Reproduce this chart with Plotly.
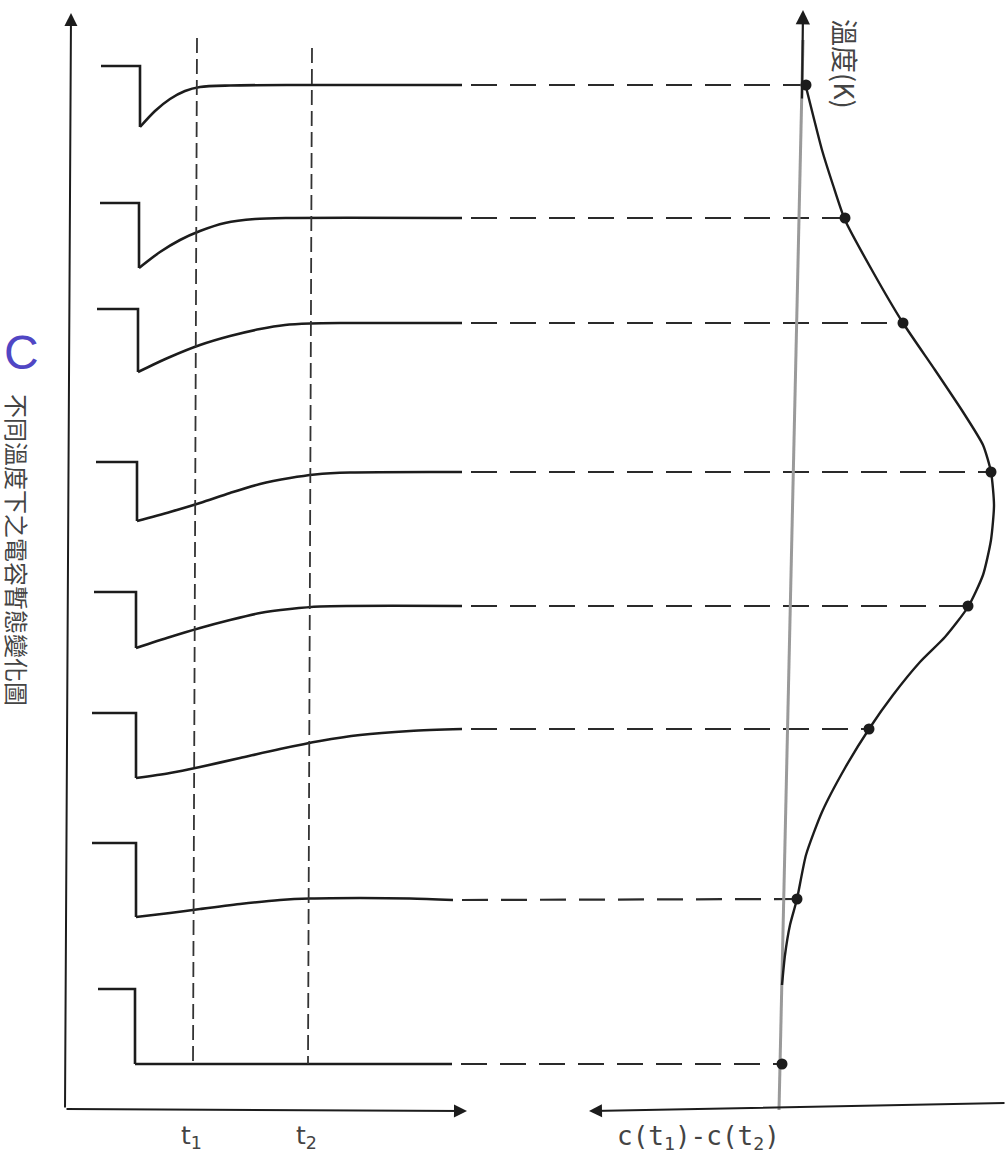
import plotly.graph_objects as go

# ---------------------------------------------------------------
# Capacitance transients at eight temperatures (left panel) and the
# resulting rate-window signal C(t1)-C(t2) versus temperature (right).
# All values are in the drawing frame: x to the right, y downward.
# ---------------------------------------------------------------

# steady-state level of each transient row (also the temperature rows)
row_level = [85, 218, 323, 472, 606, 729, 899, 1064]
# level before the filling pulse ends
pulse_level = [66, 203, 309, 462, 592, 713, 843, 989]
pulse_start = [101, 100, 97, 96, 94, 92, 92, 98]
pulse_end = [140, 139, 138, 137, 136, 136, 136, 135]

# recovery of each transient after the pulse (time position, level)
trans_t = [
    [140, 155, 170, 185, 200, 230, 300, 462],
    [139, 160, 180, 200, 225, 255, 290, 462],
    [138, 170, 200, 230, 260, 285, 310, 340, 462],
    [137, 170, 200, 230, 260, 290, 315, 350, 462],
    [136, 170, 200, 230, 260, 290, 320, 462],
    [136, 170, 200, 240, 280, 320, 360, 410, 462],
    [136, 170, 200, 240, 280, 310, 360, 410, 453],
    [135, 452],
]
trans_c = [
    [127, 111, 99, 91, 87, 85.5, 85, 85],
    [268, 252, 240, 231, 223, 219, 218, 218],
    [372, 357, 345, 336, 329, 325, 323.5, 323, 323],
    [521, 512, 503, 493, 484, 478, 474.5, 472.5, 472],
    [648, 637, 628, 620, 613, 609, 606.5, 606],
    [778, 773, 767, 758, 749, 741, 735, 731, 729],
    [917, 913, 909, 904, 900, 898.5, 898, 898.5, 900],
    [1064, 1064],
]

# sampling gates t1 / t2 (top and bottom ends of the marker lines)
gate_x_top = [197, 312]
gate_x_bottom = [193, 308]
gate_y_top = [38, 48]
gate_y_bottom = 1064
gate_labels = ["t<sub>1</sub>", "t<sub>2</sub>"]

# signal value C(t1)-C(t2) at each temperature row
signal_x = [806, 845, 903, 991, 968, 869, 797, 782]

# continuous signal curve versus temperature
curve_x = [806, 813, 822, 833, 845, 873, 903, 935, 963, 983, 991, 994, 991,
           983, 968, 945, 920, 893, 869, 845, 822, 806, 797, 790, 785, 782]
curve_y = [87, 115, 150, 185, 220, 272, 323, 370, 412, 445, 472, 505, 540,
           575, 607, 637, 662, 695, 729, 768, 812, 855, 899, 925, 955, 985]

# axes: (tail x, tail y, head x, head y)
left_vert_axis = (65, 1109, 71, 13)
left_time_axis = (65, 1109, 467, 1111)
right_temp_axis = (779, 1110, 803, 10)
right_signal_axis = (1006, 1103, 589, 1111)

INK = "#1c1c1c"
W, H = 1006, 1153

fig = go.Figure()

# pulse step + recovery for every row
for i in range(len(row_level)):
    fig.add_trace(go.Scatter(
        x=[pulse_start[i], pulse_end[i], pulse_end[i], trans_t[i][0]],
        y=[pulse_level[i], pulse_level[i], trans_c[i][0], trans_c[i][0]],
        mode="lines", line=dict(color=INK, width=2.6), hoverinfo="skip"))
    fig.add_trace(go.Scatter(
        x=trans_t[i], y=trans_c[i], mode="lines",
        line=dict(color=INK, width=2.6, shape="spline", smoothing=0.8),
        hoverinfo="skip"))
    # dashed projection to the signal curve
    fig.add_trace(go.Scatter(
        x=[trans_t[i][-1] + 9, signal_x[i]], y=[trans_c[i][-1], row_level[i]],
        mode="lines", line=dict(color="#2a2a2a", width=2.2, dash="26px,13px"),
        hoverinfo="skip"))

# gate lines t1 and t2
for k in range(2):
    fig.add_trace(go.Scatter(
        x=[gate_x_top[k], gate_x_bottom[k]], y=[gate_y_top[k], gate_y_bottom],
        mode="lines", line=dict(color="#333333", width=1.8, dash="15px,6px"),
        hoverinfo="skip"))

# temperature axis of the signal panel (grey rule)
fig.add_trace(go.Scatter(
    x=[right_temp_axis[0], right_temp_axis[2]],
    y=[right_temp_axis[1], right_temp_axis[3] + 30],
    mode="lines", line=dict(color="#9a9a9a", width=3.0), hoverinfo="skip"))

# signal curve and its sample points
fig.add_trace(go.Scatter(
    x=curve_x, y=curve_y, mode="lines",
    line=dict(color=INK, width=2.4, shape="spline", smoothing=0.6),
    hoverinfo="skip"))
fig.add_trace(go.Scatter(
    x=signal_x, y=row_level, mode="markers",
    marker=dict(color=INK, size=11), hoverinfo="skip"))

# axis arrows
def arrow(ax_tuple, color=INK, width=2.0):
    x0, y0, x1, y1 = ax_tuple
    fig.add_annotation(x=x1, y=y1, ax=x0, ay=y0, xref="x", yref="y",
                       axref="x", ayref="y", text="", showarrow=True,
                       arrowhead=2, arrowsize=1.3, arrowwidth=width,
                       arrowcolor=color)

arrow(left_vert_axis)
arrow(left_time_axis)
arrow(right_signal_axis)
# short black arrow tip on top of the grey temperature rule
arrow((right_temp_axis[2] - 1, right_temp_axis[3] + 90,
       right_temp_axis[2], right_temp_axis[3]), width=2.2)

# text labels
LABEL = "#444444"
for k in range(2):
    fig.add_annotation(x=gate_x_bottom[k] - 2, y=1137, text=gate_labels[k],
                       showarrow=False, xref="x", yref="y",
                       font=dict(family="DejaVu Sans", size=25, color=LABEL))

fig.add_annotation(x=698, y=1137, text="c(t<sub>1</sub>)-c(t<sub>2</sub>)",
                   showarrow=False, xref="x", yref="y",
                   font=dict(family="DejaVu Sans Mono", size=26, color=LABEL))

fig.add_annotation(x=846, y=64, text="溫度(K)", textangle=90,
                   showarrow=False, xref="x", yref="y",
                   font=dict(family="Noto Sans CJK TC", size=27, color=LABEL))

fig.add_annotation(x=21, y=352, text="C", showarrow=False, xref="x", yref="y",
                   font=dict(family="Liberation Sans", size=48, color="#5046c4"))

fig.add_annotation(x=18, y=550, text="不同溫度下之電容暫態變化圖", textangle=90,
                   showarrow=False, xref="x", yref="y",
                   font=dict(family="Noto Sans CJK TC", size=24, color=LABEL))

fig.update_layout(
    width=W, height=H, autosize=False,
    margin=dict(l=0, r=0, t=0, b=0),
    paper_bgcolor="white", plot_bgcolor="white",
    showlegend=False,
    xaxis=dict(range=[0, W], visible=False, fixedrange=True),
    yaxis=dict(range=[H, 0], visible=False, fixedrange=True),
)

fig.write_html("out.html", config={"displayModeBar": False})
